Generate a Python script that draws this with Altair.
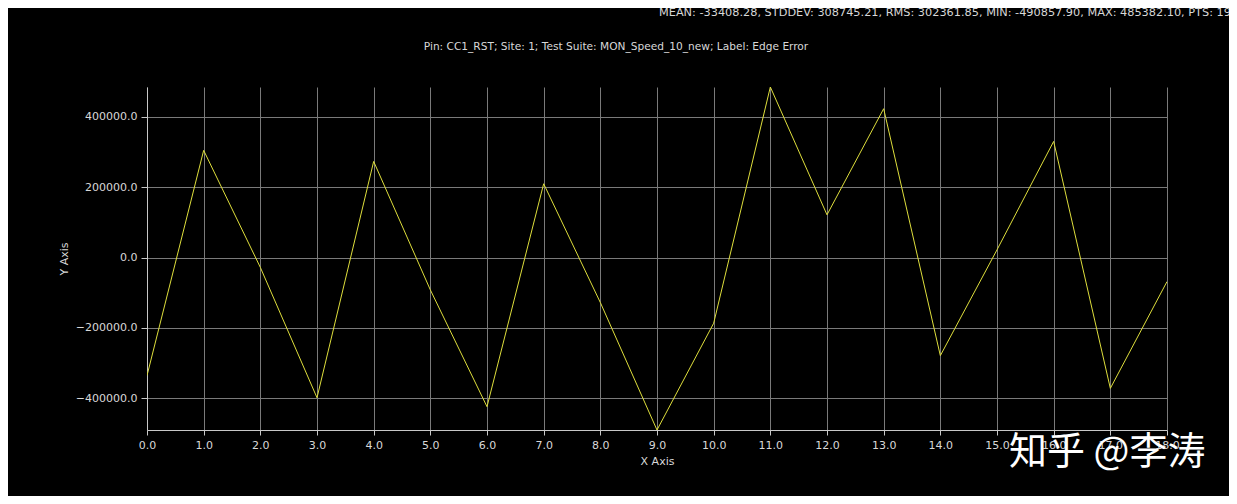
import altair as alt
import pandas as pd

# ---- data ----
x_values = list(range(19))
y_values = [-336000, 305000, -28000, -399000, 273500, -92000, -424500, 210000,
            -128000, -490857.9, -187000, 485382.1, 121600, 423600, -279200,
            22000, 330500, -372300, -68400]
x_ticks = [float(i) for i in range(19)]
y_ticks = [-400000, -200000, 0, 200000, 400000]
y_domain = [-490857.9, 485382.1]
x_domain = [0, 18]

stats_text = ("MEAN: -33408.28, STDDEV: 308745.21, RMS: 302361.85, "
              "MIN: -490857.90, MAX: 485382.10, PTS: 19")
title_text = "Pin: CC1_RST; Site: 1; Test Suite: MON_Speed_10_new; Label: Edge Error"
watermark_text = "知乎 @李涛"

df = pd.DataFrame({"x": x_values, "y": y_values})

FONT = "DejaVu Sans"
TXT = "#d8d8d8"

line = alt.Chart(df).mark_line(color="#dede3c", strokeWidth=1, clip=True).encode(
    x=alt.X("x:Q",
            scale=alt.Scale(domain=x_domain, nice=False, zero=False),
            axis=alt.Axis(values=x_ticks, format=".1f", title="X Axis",
                          labelPadding=4, titlePadding=5, tickSize=5,
                          labelFlush=False)),
    y=alt.Y("y:Q",
            scale=alt.Scale(domain=y_domain, nice=False, zero=False),
            axis=alt.Axis(values=y_ticks, format=".1f", title="Y Axis",
                          labelPadding=4, titlePadding=6, tickSize=6)),
)

stats = alt.Chart(pd.DataFrame({"t": [stats_text]})).mark_text(
    align="left", baseline="middle", fontSize=11.3, font=FONT, color=TXT
).encode(x=alt.value(512), y=alt.value(-74), text="t:N")

title = alt.Chart(pd.DataFrame({"t": [title_text]})).mark_text(
    align="center", baseline="middle", fontSize=10.6, font=FONT, color=TXT
).encode(x=alt.value(469), y=alt.value(-40), text="t:N")

watermark = alt.Chart(pd.DataFrame({"t": [watermark_text]})).mark_text(
    align="left", baseline="middle", fontSize=38, font="Noto Sans CJK SC",
    color="#ffffff"
).encode(x=alt.value(862), y=alt.value(366), text="t:N")

chart = alt.layer(line, stats, title, watermark).properties(
    width=1020,
    height=343,
    autosize=alt.AutoSizeParams(type="none"),
    padding={"left": 139, "top": 79, "right": 62, "bottom": 66},
    background="#000000",
).configure_view(
    stroke=None
).configure_axis(
    gridColor="#7a7a7a",
    gridWidth=1,
    domainColor="#c8c8c8",
    tickColor="#c8c8c8",
    labelColor=TXT,
    titleColor=TXT,
    labelFont=FONT,
    titleFont=FONT,
    labelFontSize=11,
    titleFontSize=11,
    titleFontWeight="normal",
)

chart.save("out.html", embed_options={"renderer": "svg", "actions": False})
